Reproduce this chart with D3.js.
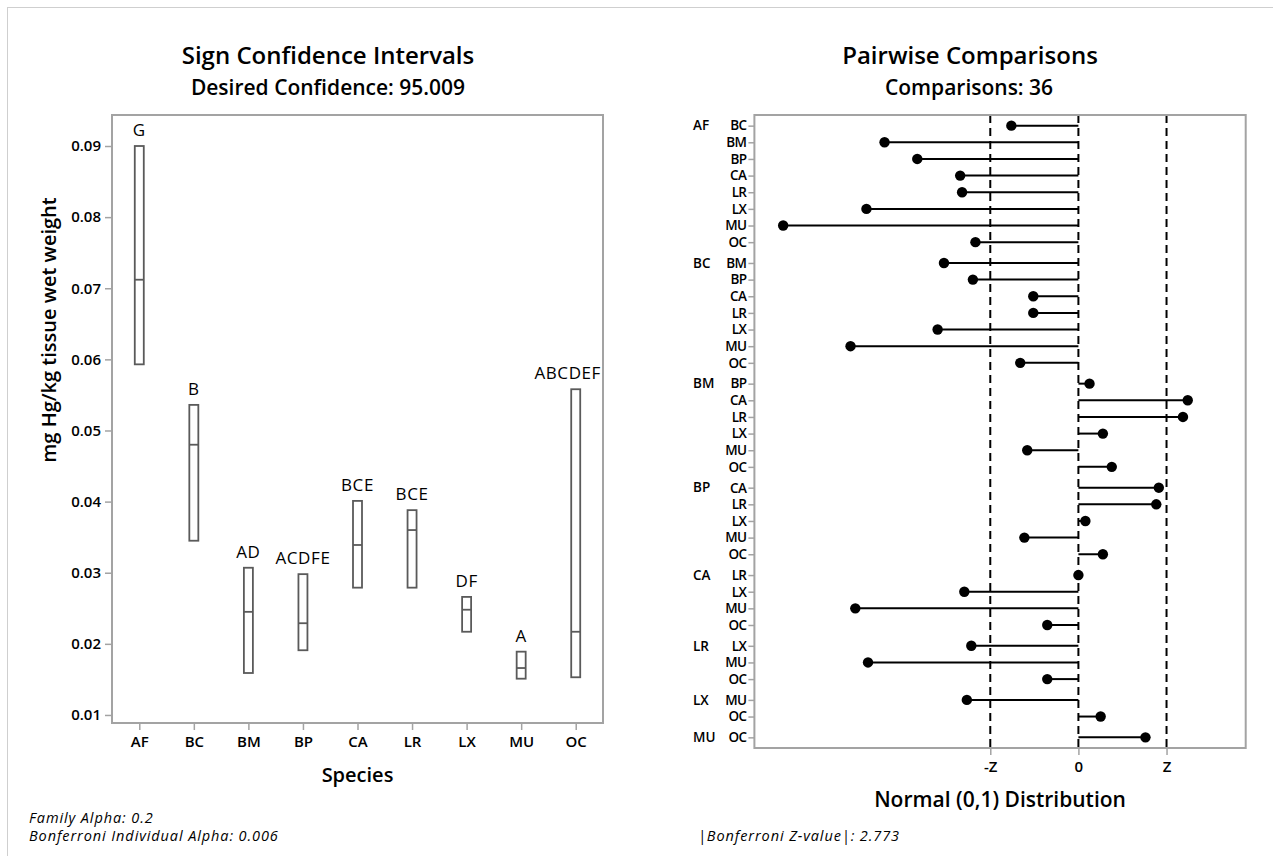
<!DOCTYPE html>
<html>
<head>
<meta charset="utf-8">
<script src="https://cdn.jsdelivr.net/npm/d3@7"></script>
<style>
  body { margin: 0; background: #fff; }
  svg text { font-family: "Open Sans", "Noto Sans", sans-serif; fill: #000; }
</style>
</head>
<body>
<svg id="chart" width="1273" height="856"></svg>
<script>
// ---- Sign confidence intervals (left panel) ----
const species = ["AF", "BC", "BM", "BP", "CA", "LR", "LX", "MU", "OC"];
const ciLower  = [0.0593, 0.0345, 0.0159, 0.0191, 0.0279, 0.0279, 0.0217, 0.0151, 0.0153];
const ciMedian = [0.0712, 0.0480, 0.0245, 0.0229, 0.0339, 0.0360, 0.0248, 0.0166, 0.0217];
const ciUpper  = [0.0900, 0.0536, 0.0307, 0.0298, 0.0401, 0.0388, 0.0266, 0.0189, 0.0558];
const groupingLetters = ["G", "B", "AD", "ACDFE", "BCE", "BCE", "DF", "A", "ABCDEF"];
const concTicks = [0.01, 0.02, 0.03, 0.04, 0.05, 0.06, 0.07, 0.08, 0.09];

// ---- Pairwise comparisons (right panel) ----
const pairFirst = [
  "AF","AF","AF","AF","AF","AF","AF","AF",
  "BC","BC","BC","BC","BC","BC","BC",
  "BM","BM","BM","BM","BM","BM",
  "BP","BP","BP","BP","BP",
  "CA","CA","CA","CA",
  "LR","LR","LR",
  "LX","LX",
  "MU"
];
const pairSecond = [
  "BC","BM","BP","CA","LR","LX","MU","OC",
  "BM","BP","CA","LR","LX","MU","OC",
  "BP","CA","LR","LX","MU","OC",
  "CA","LR","LX","MU","OC",
  "LR","LX","MU","OC",
  "LX","MU","OC",
  "MU","OC",
  "OC"
];
const zValues = [
  -2.11, -6.10, -5.07, -3.72, -3.66, -6.67, -9.29, -3.24,
  -4.23, -3.32, -1.42, -1.42, -4.43, -7.17, -1.83,
   0.35,  3.44,  3.29,  0.77, -1.61,  1.05,
   2.53,  2.45,  0.22, -1.70,  0.77,
   0.00, -3.59, -7.02, -0.98,
  -3.37, -6.62, -0.98,
  -3.51,  0.70,
   2.11
];
const zCritical = 2.773;
const zTickValues = [-zCritical, 0, zCritical];
const zTickLabels = ["-Z", "0", "Z"];

const svg = d3.select("#chart");
const gray = "#a3a3a3";

// outer border
svg.append("rect")
  .attr("x", 7.5).attr("y", 7.5).attr("width", 1300).attr("height", 900)
  .attr("fill", "none").attr("stroke", "#cfcfcf").attr("stroke-width", 1);

function styleAxis(g, fontSize) {
  g.select(".domain").remove();
  g.selectAll(".tick line").attr("stroke", gray).attr("stroke-width", 1.5);
  g.selectAll(".tick text")
    .attr("fill", "#000")
    .style("font-size", fontSize + "px")
    .style("font-weight", 600);
}

function footnote(x, y, str) {
  svg.append("text").attr("x", x).attr("y", y)
    .style("font-size", "14.5px").style("font-style", "italic")
    .attr("letter-spacing", "0.9px")
    .text(str);
}

// ================= LEFT PANEL =================
const L = { left: 112, right: 603, top: 115, bottom: 723 };

const xL = d3.scalePoint().domain(species).range([L.left, L.right]).padding(0.5);
const yL = d3.scaleLinear().domain([0.00887, 0.09436]).range([L.bottom, L.top]);

svg.append("text").attr("x", 328).attr("y", 64).attr("text-anchor", "middle")
  .style("font-size", "24px").style("font-weight", 600)
  .text("Sign Confidence Intervals");
svg.append("text").attr("x", 328).attr("y", 95).attr("text-anchor", "middle")
  .style("font-size", "21px").style("font-weight", 600)
  .text("Desired Confidence: 95.009");

const yAxisL = svg.append("g").attr("transform", `translate(${L.left},0)`)
  .call(d3.axisLeft(yL).tickValues(concTicks).tickFormat(d3.format(".2f")).tickSize(7).tickPadding(4));
styleAxis(yAxisL, 15);

const xAxisL = svg.append("g").attr("transform", `translate(0,${L.bottom})`)
  .call(d3.axisBottom(xL).tickSize(7).tickPadding(6));
styleAxis(xAxisL, 15);

svg.append("rect")
  .attr("x", L.left).attr("y", L.top)
  .attr("width", L.right - L.left).attr("height", L.bottom - L.top)
  .attr("fill", "none").attr("stroke", gray).attr("stroke-width", 2);

svg.append("text")
  .attr("transform", `translate(56,330) rotate(-90)`)
  .attr("text-anchor", "middle")
  .style("font-size", "20px").style("font-weight", 600)
  .text("mg Hg/kg tissue wet weight");

svg.append("text").attr("x", (L.left + L.right) / 2).attr("y", 782)
  .attr("text-anchor", "middle")
  .style("font-size", "20px").style("font-weight", 600)
  .text("Species");

const boxW = 9;
const boxColor = "#5a5a5a";
const boxes = svg.append("g");
species.forEach((s, i) => {
  const cx = xL(s);
  boxes.append("rect")
    .attr("x", cx - boxW / 2).attr("y", yL(ciUpper[i]))
    .attr("width", boxW).attr("height", yL(ciLower[i]) - yL(ciUpper[i]))
    .attr("fill", "none").attr("stroke", boxColor).attr("stroke-width", 1.8);
  boxes.append("line")
    .attr("x1", cx - boxW / 2).attr("x2", cx + boxW / 2)
    .attr("y1", yL(ciMedian[i])).attr("y2", yL(ciMedian[i]))
    .attr("stroke", boxColor).attr("stroke-width", 1.8);
  const lbl = boxes.append("text")
    .attr("x", cx).attr("y", yL(ciUpper[i]) - 10)
    .attr("text-anchor", "middle")
    .attr("letter-spacing", "0.6px")
    .style("font-size", "17px")
    .text(groupingLetters[i]);
  // keep letter labels inside the plot frame
  const w = lbl.node().getComputedTextLength();
  if (cx + w / 2 > L.right - 2) lbl.attr("x", L.right - 2 - w / 2);
});

footnote(29, 823, "Family Alpha: 0.2");
footnote(29, 841, "Bonferroni Individual Alpha: 0.006");

// ================= RIGHT PANEL =================
const R = { left: 754.4, right: 1245.7, top: 115, bottom: 748 };
const groupGap = 0.25;

// row position: running index plus a small gap before each new group
const groups = [];
pairFirst.forEach(f => { if (!groups.includes(f)) groups.push(f); });
const rowPos = pairFirst.map((f, k) => k + groupGap * groups.indexOf(f));
const lastPos = rowPos[rowPos.length - 1];

const xR = d3.scaleLinear().domain([-10.195, 5.264]).range([R.left, R.right]);
const yR = d3.scaleLinear().domain([-0.64, lastPos + 0.64]).range([R.top, R.bottom]);

svg.append("text").attr("x", 970).attr("y", 64).attr("text-anchor", "middle")
  .style("font-size", "24px").style("font-weight", 600)
  .text("Pairwise Comparisons");
svg.append("text").attr("x", 969).attr("y", 95).attr("text-anchor", "middle")
  .style("font-size", "21px").style("font-weight", 600)
  .text("Comparisons: 36");

const yAxisR = svg.append("g").attr("transform", `translate(${R.left},0)`)
  .call(d3.axisLeft(yR).tickValues(rowPos).tickFormat((d, i) => pairSecond[i]).tickSize(6).tickPadding(2));
styleAxis(yAxisR, 13.5);
yAxisR.selectAll(".tick text").attr("letter-spacing", "-0.6px");

// group (first species) labels
groups.forEach(gName => {
  const k = pairFirst.indexOf(gName);
  svg.append("text")
    .attr("x", 693).attr("y", yR(rowPos[k])).attr("dy", "0.35em")
    .style("font-size", "13.5px").style("font-weight", 600)
    .text(gName);
});

const xAxisR = svg.append("g").attr("transform", `translate(0,${R.bottom})`)
  .call(d3.axisBottom(xR).tickValues(zTickValues).tickFormat((d, i) => zTickLabels[i]).tickSize(7).tickPadding(6));
styleAxis(xAxisR, 15);

svg.append("text").attr("x", (R.left + R.right) / 2).attr("y", 807)
  .attr("text-anchor", "middle")
  .style("font-size", "21px").style("font-weight", 600)
  .text("Normal (0,1) Distribution");

// reference lines at -Z, 0, Z
svg.append("g").selectAll("line").data(zTickValues).join("line")
  .attr("x1", d => xR(d)).attr("x2", d => xR(d))
  .attr("y1", R.top).attr("y2", R.bottom)
  .attr("stroke", "#000").attr("stroke-width", 2)
  .attr("stroke-dasharray", "8,5");

// lollipops
const pts = svg.append("g");
zValues.forEach((z, k) => {
  pts.append("line")
    .attr("x1", xR(0)).attr("x2", xR(z))
    .attr("y1", yR(rowPos[k])).attr("y2", yR(rowPos[k]))
    .attr("stroke", "#000").attr("stroke-width", 2);
  pts.append("circle")
    .attr("cx", xR(z)).attr("cy", yR(rowPos[k])).attr("r", 5.2)
    .attr("fill", "#000");
});

svg.append("rect")
  .attr("x", R.left).attr("y", R.top)
  .attr("width", R.right - R.left).attr("height", R.bottom - R.top)
  .attr("fill", "none").attr("stroke", gray).attr("stroke-width", 2);

footnote(698, 841, "|Bonferroni Z-value|: 2.773");
</script>
</body>
</html>
